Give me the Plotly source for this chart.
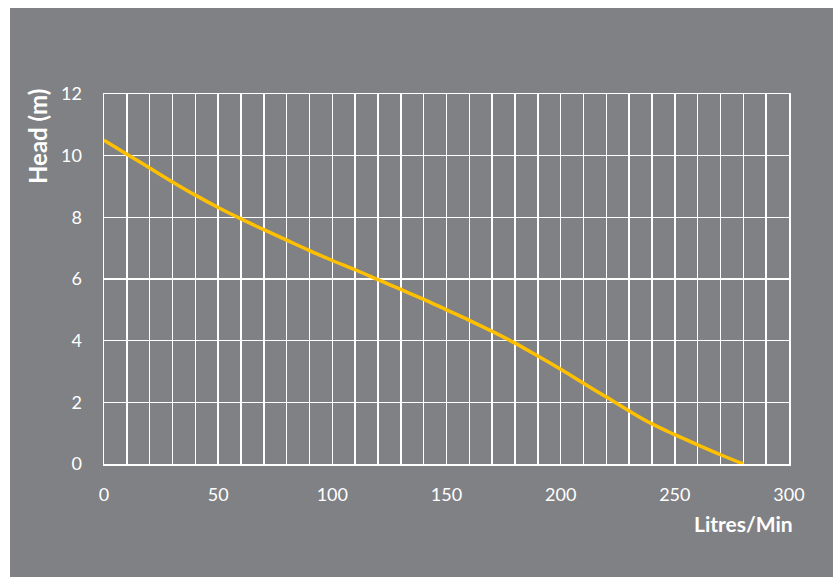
import plotly.graph_objects as go

flow_lpm = [0, 10, 20, 30, 40, 50, 60, 70, 80, 90, 100, 110, 120, 130, 140,
            150, 160, 170, 180, 190, 200, 210, 220, 230, 240, 250, 260, 270, 280]
head_m = [10.5, 10.05, 9.6, 9.15, 8.72, 8.32, 7.95, 7.6, 7.26, 6.92, 6.6, 6.3, 5.98, 5.66, 5.34,
          5.0, 4.66, 4.3, 3.92, 3.5, 3.07, 2.62, 2.17, 1.72, 1.3, 0.95, 0.62, 0.3, 0.0]

x_tickvals = [0, 50, 100, 150, 200, 250, 300]
y_tickvals = [0, 2, 4, 6, 8, 10, 12]

BG = "#808185"
FONT = "Lato, 'Open Sans', sans-serif"

fig = go.Figure()
fig.add_trace(go.Scatter(
    x=flow_lpm, y=head_m, mode="lines",
    line=dict(color="#FFC000", width=3.5, shape="spline", smoothing=1.0),
    hoverinfo="skip", showlegend=False,
))

fig.update_layout(
    width=837, height=577,
    margin=dict(l=104, r=48, t=94, b=113),
    paper_bgcolor="white",
    plot_bgcolor=BG,
    font=dict(family=FONT, color="white", size=17),
    shapes=[dict(type="rect", xref="paper", yref="paper",
                 x0=-0.1372, x1=1.0642, y0=-0.31, y1=1.2324,
                 fillcolor=BG, line=dict(width=0), layer="below")],
    annotations=[
        dict(text="<b>Litres/Min</b>", xref="paper", yref="paper",
             x=(795 - 104) / 685, y=(464 - 523) / 370, xanchor="right", yanchor="middle",
             showarrow=False, font=dict(size=21, color="white", family=FONT)),
        dict(text="<b>Head (m)</b>", xref="paper", yref="paper",
             x=(37 - 104) / 685, y=(464 - 137) / 370, xanchor="center", yanchor="middle",
             textangle=-90, showarrow=False, font=dict(size=24, color="white", family=FONT)),
    ],
)

fig.update_xaxes(
    range=[0, 300], tickvals=x_tickvals, ticktext=[str(v) for v in x_tickvals],
    showgrid=True, gridcolor="white", gridwidth=1.5,
    minor=dict(dtick=10, tick0=0, showgrid=True, gridcolor="white", gridwidth=1.5),
    showline=True, linecolor="white", linewidth=1.5, mirror=True,
    ticks="", ticklabelstandoff=14, zeroline=False,
    tickfont=dict(size=18, color="white", family=FONT),
)
fig.update_yaxes(
    range=[0, 12], tickvals=y_tickvals, ticktext=[str(v) for v in y_tickvals],
    showgrid=True, gridcolor="white", gridwidth=1.5,
    showline=True, linecolor="white", linewidth=1.5, mirror=True,
    ticks="", ticklabelstandoff=17, zeroline=False,
    tickfont=dict(size=18, color="white", family=FONT),
)

fig.write_html(
    "out.html",
    config={"displayModeBar": False, "staticPlot": True},
    post_script="document.body.style.margin='0px';document.body.style.overflow='hidden';"
                "document.documentElement.style.overflow='hidden';",
)
